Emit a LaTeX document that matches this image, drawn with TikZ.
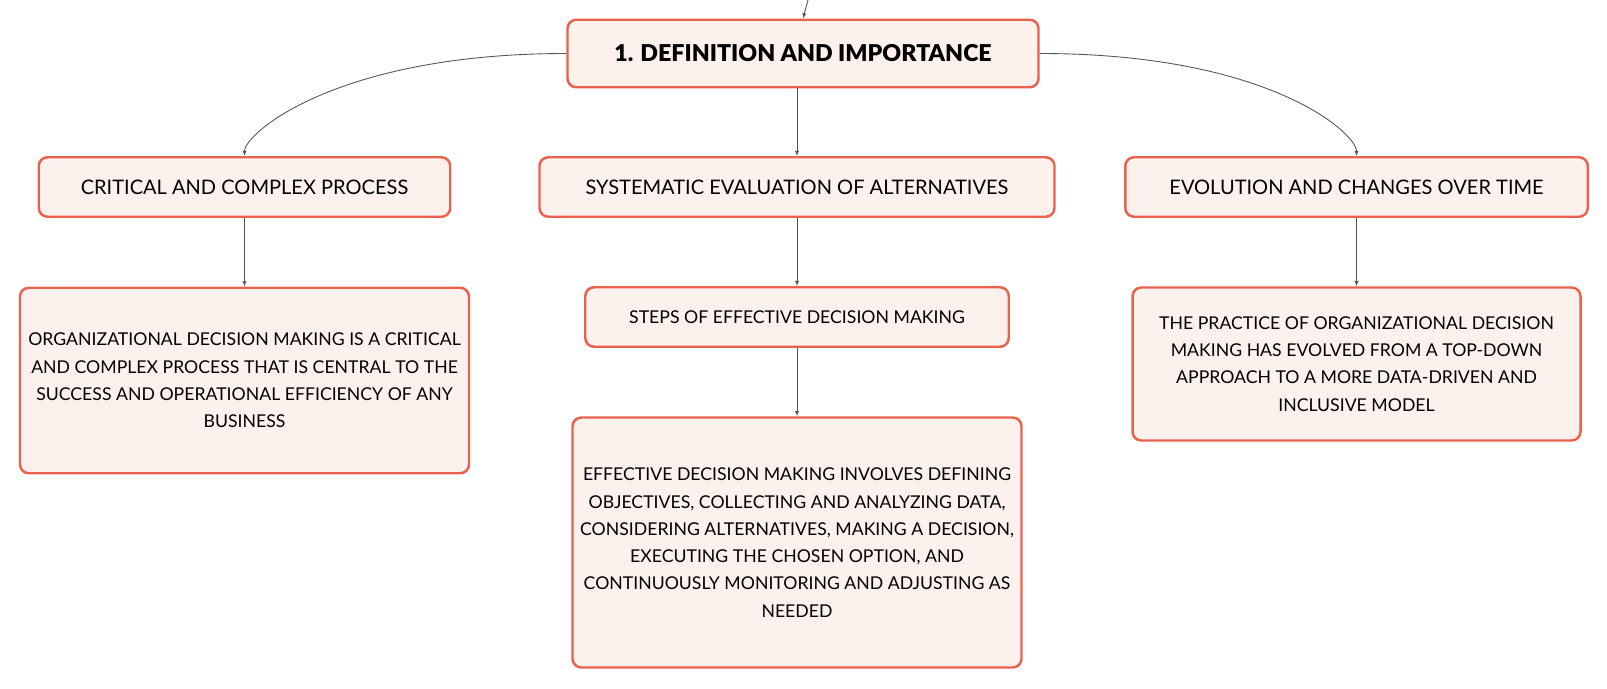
\documentclass[tikz,border=0pt]{standalone}
\usepackage{fontspec}
\setmainfont{Lato}
\newfontfamily\titlefont{Lato Black}
\usepackage{xcolor}
\usetikzlibrary{arrows.meta}
\definecolor{boxred}{RGB}{234,98,78}
\definecolor{boxfill}{RGB}{253,241,237}
\definecolor{linegray}{RGB}{85,85,85}
\tikzstyle{arrow} = [-{Latex[length=3pt,width=2.4pt]}, linegray, line width=0.5pt]
\tikzstyle{topic} = [draw=boxred, fill=boxfill, line width=1.4pt, rounded corners=5pt, align=center]
\tikzstyle{head} = [topic, minimum height=1.19cm, font=\fontsize{11.4}{14}\selectfont]
\tikzstyle{leaf} = [topic, font=\fontsize{10.05}{15.5}\selectfont]

\begin{document}
\begin{tikzpicture}
		\useasboundingbox (0,0) rectangle (32.14,-13.76);
		\coordinate (in) at (16.16,0);
		\node (def) [topic, minimum width=9.42cm, minimum height=1.35cm, font=\fontsize{13.2}{16}\titlefont] at (16.06,-1.07) {1. DEFINITION AND IMPORTANCE};
		\node (syst) [head, below of=def, node distance=2.67cm, xshift=-0.12cm, minimum width=10.3cm] {SYSTEMATIC EVALUATION OF ALTERNATIVES};
		\node (crit) [head, left of=syst, node distance=11.05cm, minimum width=8.23cm] {CRITICAL AND COMPLEX PROCESS};
		\node (evol) [head, right of=syst, node distance=11.19cm, minimum width=9.25cm] {EVOLUTION AND CHANGES OVER TIME};
		\node (org) [leaf, below of=crit, node distance=3.87cm, minimum width=8.98cm, minimum height=3.71cm] {ORGANIZATIONAL DECISION MAKING IS A CRITICAL\\AND COMPLEX PROCESS THAT IS CENTRAL TO THE\\SUCCESS AND OPERATIONAL EFFICIENCY OF ANY\\BUSINESS};
		\node (steps) [leaf, below of=syst, node distance=2.6cm, minimum width=8.47cm, minimum height=1.19cm] {STEPS OF EFFECTIVE DECISION MAKING};
		\node (eff) [leaf, below of=steps, node distance=4.51cm, minimum width=8.98cm, minimum height=5cm] {EFFECTIVE DECISION MAKING INVOLVES DEFINING\\OBJECTIVES, COLLECTING AND ANALYZING DATA,\\CONSIDERING ALTERNATIVES, MAKING A DECISION,\\EXECUTING THE CHOSEN OPTION, AND\\CONTINUOUSLY MONITORING AND ADJUSTING AS\\NEEDED};
		\node (prac) [leaf, below of=evol, node distance=3.54cm, minimum width=8.96cm, minimum height=3.06cm] {THE PRACTICE OF ORGANIZATIONAL DECISION\\MAKING HAS EVOLVED FROM A TOP-DOWN\\APPROACH TO A MORE DATA-DRIVEN AND\\INCLUSIVE MODEL};

		\draw [arrow] (in) -- (def.north);
		\draw [arrow] (def.west) .. controls +(-4.6,0) and +(0,0.45) .. (crit.north);
		\draw [arrow] (def.south -| syst.north) -- (syst.north);
		\draw [arrow] (def.east) .. controls +(4.6,0) and +(0,0.45) .. (evol.north);
		\draw [arrow] (crit) -- (org);
		\draw [arrow] (syst) -- (steps);
		\draw [arrow] (steps) -- (eff);
		\draw [arrow] (evol) -- (prac);
	\end{tikzpicture}
\end{document}
